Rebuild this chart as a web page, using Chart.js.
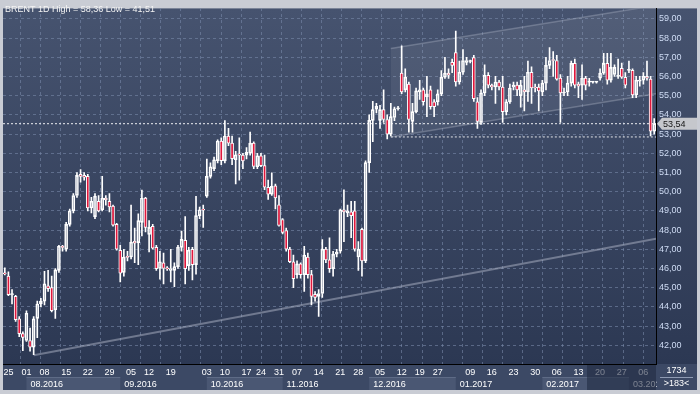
<!DOCTYPE html>
<html><head><meta charset="utf-8">
<script src="https://cdn.jsdelivr.net/npm/chart.js@4.4.1/dist/chart.umd.min.js"></script>
<style>html,body{margin:0;padding:0;background:#c9ccd4;}canvas{display:block;}</style>
</head><body>
<canvas id="c" width="700" height="394"></canvas>
<script>
// ---- DATA (daily BRENT candles) ----
const openP = [
45.74,45.61,44.62,44.55,43.38,42.61,42.25,42.25,41.90,43.40,
44.15,44.30,45.10,45.00,43.85,45.90,47.15,47.00,48.30,49.00,
49.80,50.90,50.85,50.80,49.15,48.70,49.50,49.06,49.67,49.50,
49.25,48.30,46.95,45.80,46.62,46.60,47.42,47.35,48.40,49.67,
47.78,48.20,47.10,46.00,46.30,46.00,45.90,45.90,46.10,47.10,
47.47,46.15,47.00,46.20,48.75,49.06,49.77,50.80,51.20,51.62,
52.64,51.60,52.90,52.53,51.66,51.95,51.90,51.90,52.00,52.53,
51.30,51.87,51.36,50.23,49.87,50.30,49.31,48.55,47.98,47.01,
46.35,45.68,46.24,45.68,46.60,45.68,44.66,44.55,44.70,47.01,
46.45,45.99,46.75,46.90,49.06,48.90,48.95,49.00,46.60,48.04,
46.40,51.51,53.71,54.30,53.71,54.27,53.76,52.99,53.86,54.32,
56.17,55.30,55.60,53.66,54.17,55.20,55.30,54.94,55.30,54.68,
54.68,55.10,55.96,56.17,56.73,57.24,55.71,56.22,56.73,56.78,
56.98,54.68,53.60,55.14,56.06,55.55,55.45,55.71,55.45,54.17,
54.68,55.45,55.55,55.00,55.30,55.19,56.22,55.45,55.45,55.20,
55.65,56.58,56.85,56.83,55.91,55.14,55.19,55.65,56.68,55.60,
55.55,55.91,55.70,55.70,55.70,55.91,56.17,56.68,55.81,56.10,
56.00,56.42,55.96,56.32,56.32,55.04,55.75,55.81,56.01,55.86,53.15];
const highP = [
46.04,45.83,44.90,44.60,43.50,42.70,43.80,42.90,43.50,44.30,
44.45,45.85,45.90,45.60,46.00,47.20,47.20,48.40,49.10,49.90,
51.00,51.15,51.00,50.90,49.70,49.90,49.80,50.80,49.80,49.90,
49.30,48.35,47.20,47.00,46.90,49.30,48.10,48.85,50.08,49.70,
48.50,48.30,47.20,46.90,46.80,46.10,47.00,46.30,47.20,47.95,
48.70,47.10,47.10,49.76,49.20,49.30,51.70,51.50,51.80,52.70,
52.80,53.70,53.30,52.90,52.10,52.80,52.00,52.30,53.10,52.60,
52.00,52.00,51.90,50.60,50.98,50.40,49.80,48.60,48.10,47.10,
46.70,46.40,46.30,47.15,46.80,45.90,44.80,44.90,47.50,47.10,
47.60,46.90,47.00,49.10,50.10,49.30,49.50,49.50,47.40,48.10,
51.60,54.00,54.70,54.60,54.50,55.30,54.00,54.60,54.40,54.45,
57.60,56.40,55.70,54.60,55.40,55.80,55.40,56.00,55.50,54.80,
55.30,56.30,57.00,56.40,56.90,58.36,56.80,57.40,57.00,56.85,
57.10,54.90,55.30,56.60,56.20,55.60,56.00,55.80,56.00,54.80,
55.60,55.70,55.70,55.80,56.00,56.80,56.50,55.60,55.60,55.80,
57.00,57.50,57.30,57.10,56.10,55.40,56.00,56.80,56.90,55.70,
56.60,56.00,55.90,55.75,55.75,56.40,57.20,57.20,57.20,56.60,
56.90,56.70,56.20,56.80,56.40,56.00,56.00,56.20,56.80,56.00,53.80];
const lowP = [
45.66,44.58,44.15,43.25,42.45,41.72,42.20,41.70,41.51,42.40,
44.00,44.10,44.80,43.74,43.40,45.80,46.90,46.90,48.20,48.90,
49.70,50.50,50.60,49.00,48.90,48.60,48.95,49.00,49.30,48.95,
48.20,46.95,45.30,45.60,46.40,46.50,46.30,46.20,47.70,47.90,
46.86,47.00,45.90,45.45,45.20,45.90,45.30,45.06,46.00,46.90,
45.20,45.90,45.40,45.70,48.60,48.14,49.70,50.70,51.10,51.50,
51.40,51.50,52.40,51.40,50.40,50.60,51.20,51.70,51.90,51.20,
51.20,51.30,50.10,49.60,49.80,49.10,48.20,47.80,46.90,46.30,
45.00,45.50,45.50,44.80,45.50,44.10,44.30,43.50,44.50,46.30,
45.80,45.60,46.60,46.80,47.40,48.70,47.60,46.90,45.90,45.60,
46.30,51.00,52.60,54.10,53.30,53.60,52.75,52.90,53.70,54.25,
55.10,55.20,53.10,53.10,54.10,54.80,54.50,53.90,54.30,53.90,
54.50,55.00,55.90,55.90,56.20,55.50,55.60,56.10,56.60,56.70,
54.70,53.30,53.50,55.00,55.40,55.30,54.60,55.30,53.60,54.00,
54.60,55.30,55.00,54.40,54.20,54.70,54.60,55.20,54.20,55.00,
55.30,56.40,56.00,55.80,53.60,55.00,55.00,55.50,55.40,54.90,
54.80,55.30,55.50,55.65,55.65,55.80,56.10,55.60,55.70,56.00,
55.90,55.90,55.40,56.20,54.90,54.90,55.50,55.60,55.80,52.90,53.00];
const closeP = [
45.72,44.64,44.69,43.33,42.61,42.41,43.67,41.90,43.38,44.15,
44.30,45.20,44.95,43.80,45.93,47.16,47.10,48.30,49.00,49.80,
50.85,50.80,50.75,49.15,49.50,49.77,49.00,49.67,49.57,49.20,
48.25,47.00,45.75,46.60,46.58,47.37,47.32,48.49,49.67,48.14,
48.14,47.06,45.99,46.35,46.00,45.98,46.00,46.10,47.11,47.52,
45.99,46.96,46.20,48.75,49.06,49.04,50.80,51.30,51.66,52.64,
51.62,52.90,52.53,51.72,51.92,51.90,51.60,52.05,52.53,51.31,
51.87,51.36,50.23,49.87,50.28,49.67,48.24,47.88,47.01,46.35,
45.47,46.24,45.68,46.70,45.68,44.55,44.50,44.70,47.01,46.45,
45.99,46.75,46.86,49.06,48.95,49.00,48.75,47.01,47.01,46.40,
51.51,53.71,54.27,54.45,54.27,53.76,52.99,53.91,54.32,54.35,
55.19,55.96,53.76,54.17,55.25,55.30,54.68,55.09,54.43,54.43,
55.09,55.96,56.17,56.06,56.58,55.71,56.22,56.83,56.83,56.78,
54.84,53.66,55.14,56.06,55.55,55.45,55.71,55.45,54.17,54.68,
55.40,55.55,55.30,55.55,55.19,56.22,55.40,55.40,55.25,55.65,
56.58,56.83,56.83,55.86,55.14,55.19,55.65,56.68,55.55,55.50,
55.91,55.55,55.70,55.70,55.70,56.17,56.68,55.81,56.47,56.47,
56.06,55.96,55.55,56.37,55.04,55.81,55.81,56.01,55.91,53.15,53.54];

// x axis: week-start ticks (bar index) and their day labels
const weekTickIndex = [1,6,11,17,23,29,35,40,46,56,61,67,71,76,81,87,93,98,104,110,115,120,129,135,141,147,153,159,165,171,177];
const weekTickLabel = ['25','01','08','15','22','29','05','12','19','03','10','17','24','31','07','14','21','28','05','12','19','27','09','16','23','30','06','13','20','27','06'];
// month row
const monthStartIndex = [6,32,56,77,101,125,149,173];
const monthLabel = ['08.2016','09.2016','10.2016','11.2016','12.2016','01.2017','02.2017','03.2017'];
// price axis ticks
const priceTicks = [42,43,44,45,46,47,48,49,50,51,52,53,54,55,56,57,58,59];
// drawn trend lines: [barIndex, price]
const supportLine = [[8,41.48],[180.5,47.55]];
const channelUpper = [[107,57.45],[180.5,59.70]];
const channelLower = [[107,52.85],[180.5,55.10]];
const lastPrice = 53.54;
const channelBase = 52.85;
const titleText = 'BRENT 1D High = 58,36 Low = 41,51';
const cornerTop = '1734', cornerBottom = '>183<';

// ---- STYLE ----
const COL = {
  frame:'#c9ccd4', top:'#46536f', bottom:'#2c3853', axisBg:'#3c4965', band:'#4a5773', bandLine:'#5e6b86',
  grid:'rgba(120,136,168,0.6)', red:'#e0173c', white:'#ffffff', yText:'#cfdcf4'
};
Chart.defaults.font.family = "'Liberation Sans', Arial, sans-serif";
Chart.defaults.font.size = 9;

const N = closeP.length;
const idx = closeP.map((_, i) => i);
const bodyData = idx.map(i => ({x:i, y:[Math.min(openP[i],closeP[i]), Math.max(openP[i],closeP[i])]}));
const upWick = idx.map(i => ({x:i, y:[Math.max(openP[i],closeP[i]), highP[i]]}));
const loWick = idx.map(i => ({x:i, y:[lowP[i], Math.min(openP[i],closeP[i])]}));
const bodyFill = idx.map(i => closeP[i] < openP[i] ? COL.red : 'rgba(0,0,0,0)');
const pts = a => a.map(p => ({x:p[0], y:p[1]}));
const gridStart = 1.44, gridStep = 5.571;
const gridTicks = [];
for (let v = gridStart; v <= N - 0.5; v += gridStep) gridTicks.push({value:v});

const bgPlugin = {
  id:'bg',
  beforeDraw(chart){
    const {ctx, chartArea:a, scales} = chart;
    const W = chart.width;
    ctx.save();
    ctx.fillStyle = COL.frame; ctx.fillRect(0,0,W,chart.height);
    const g = ctx.createLinearGradient(0,a.top,0,a.bottom);
    g.addColorStop(0,COL.top); g.addColorStop(1,COL.bottom);
    ctx.fillStyle = g; ctx.fillRect(a.left,a.top,W-3-a.left,a.bottom-a.top);
    ctx.fillStyle = COL.axisBg; ctx.fillRect(a.left,a.bottom,W-3-a.left,scales.xm.bottom-a.bottom);
    const xs = scales.x, xm = scales.xm;
    for (let k=0;k<monthStartIndex.length;k+=2){
      const x0 = xs.getPixelForValue(monthStartIndex[k]);
      const x1 = k+1<monthStartIndex.length ? xs.getPixelForValue(monthStartIndex[k+1]) : a.right;
      ctx.fillStyle = COL.band; ctx.fillRect(x0,xm.top,x1-x0,xm.bottom-xm.top);
      ctx.fillStyle = COL.bandLine; ctx.fillRect(x0,xm.top,x1-x0,1);
    }
    ctx.restore();
  },
  afterDraw(chart){
    const {ctx, chartArea:a, scales} = chart;
    const W = chart.width;
    ctx.save();
    // dimmed area at lower right of time axis
    ctx.fillStyle = 'rgba(34,44,66,0.6)';
    ctx.fillRect(587,a.bottom+1,a.right-587,scales.xm.bottom-a.bottom-1);
    // corner box
    ctx.fillStyle = COL.axisBg; ctx.fillRect(a.right+1,a.bottom+1,W-3-a.right-1,scales.xm.bottom-a.bottom-1);
    ctx.fillStyle = '#8f9bb3'; ctx.fillRect(a.right+4,a.bottom+13,W-3-a.right-8,1);
    ctx.fillStyle = '#ffffff'; ctx.font = "9px 'Liberation Sans', Arial, sans-serif";
    ctx.textAlign = 'center'; ctx.textBaseline = 'middle';
    const cx = (a.right + W - 3)/2;
    ctx.fillText(cornerTop, cx, a.bottom+7);
    ctx.fillText(cornerBottom, cx, a.bottom+19.5);
    // title
    ctx.textAlign = 'left'; ctx.textBaseline = 'alphabetic';
    ctx.fillStyle = '#f4f4f4';
    ctx.fillText(titleText, 5, 12);
    // price tag
    const y = scales.y.getPixelForValue(lastPrice);
    const L = a.right + 1, R = W - 3;
    ctx.beginPath();
    ctx.moveTo(L, y); ctx.lineTo(L+5, y-6); ctx.lineTo(R, y-6); ctx.lineTo(R, y+6); ctx.lineTo(L+5, y+6); ctx.closePath();
    ctx.fillStyle = '#c5c7cc'; ctx.fill();
    ctx.fillStyle = '#151515'; ctx.textBaseline = 'middle';
    ctx.fillText(lastPrice.toFixed(2).replace('.', ','), L+6, y+0.5);
    ctx.restore();
  }
};

new Chart(document.getElementById('c'), {
  type:'bar',
  data:{datasets:[
    {type:'bar', data:bodyData, backgroundColor:bodyFill, borderColor:COL.white, borderWidth:1, borderSkipped:false,
     barThickness:3, minBarLength:1, grouped:false, order:0, xAxisID:'x', yAxisID:'y'},
    {type:'bar', data:upWick, backgroundColor:COL.white, borderWidth:0, barThickness:1, grouped:false, order:1, xAxisID:'x', yAxisID:'y'},
    {type:'bar', data:loWick, backgroundColor:COL.white, borderWidth:0, barThickness:1, grouped:false, order:1, xAxisID:'x', yAxisID:'y'},
    {type:'line', data:pts(channelUpper), borderColor:'rgba(190,196,212,0.32)', borderWidth:1.5, pointRadius:0,
     fill:'+1', backgroundColor:'rgba(255,255,255,0.065)', order:5, xAxisID:'x', yAxisID:'y'},
    {type:'line', data:pts(channelLower), borderColor:'rgba(190,196,212,0.32)', borderWidth:1.5, pointRadius:0, fill:false, order:5, xAxisID:'x', yAxisID:'y'},
    {type:'line', data:pts(supportLine), borderColor:'rgba(175,182,200,0.5)', borderWidth:2, pointRadius:0, fill:false, order:5, xAxisID:'x', yAxisID:'y'},
    {type:'line', data:pts([[-0.5,lastPrice],[N-0.5,lastPrice]]), borderColor:'rgba(255,255,255,0.9)', borderWidth:1, borderDash:[2,2], pointRadius:0, fill:false, order:4, xAxisID:'x', yAxisID:'y'},
    {type:'line', data:pts([[channelLower[0][0],channelBase],[N-0.5,channelBase]]), borderColor:'rgba(255,255,255,0.85)', borderWidth:1, borderDash:[2,2], pointRadius:0, fill:false, order:4, xAxisID:'x', yAxisID:'y'}
  ]},
  options:{
    responsive:false, animation:false, devicePixelRatio:1,
    layout:{padding:{left:3, top:2, right:3, bottom:4}},
    plugins:{legend:{display:false}, tooltip:{enabled:false}},
    scales:{
      x:{type:'linear', position:'bottom', min:-0.5, max:N-0.5, offset:false,
         afterBuildTicks:s=>{s.ticks = weekTickIndex.map(v=>({value:v}));},
         afterFit:s=>{s.height = 13;},
         ticks:{autoSkip:false, maxRotation:0, color:'#ffffff', padding:3,
                callback:v=>{const k = weekTickIndex.indexOf(v); return k>=0 ? weekTickLabel[k] : '';}},
         grid:{display:false, drawTicks:false},
         border:{display:true, color:'#000000', width:1}},
      xm:{type:'linear', position:'bottom', weight:1, min:-0.5, max:N-0.5, offset:false,
         afterBuildTicks:s=>{s.ticks = monthStartIndex.map(v=>({value:v}));},
         afterFit:s=>{s.height = 13;},
         ticks:{autoSkip:false, maxRotation:0, color:'#ffffff', padding:2, align:'start', labelOffset:4,
                callback:v=>{const k = monthStartIndex.indexOf(v); return k>=0 ? monthLabel[k] : '';}},
         grid:{display:false, drawTicks:false}, border:{display:false}},
      xg:{type:'linear', position:'top', min:-0.5, max:N-0.5, offset:false,
         afterBuildTicks:s=>{s.ticks = gridTicks.slice();},
         afterFit:s=>{s.height = 0;},
         ticks:{display:false},
         grid:{color:COL.grid, drawTicks:false, lineWidth:1},
         border:{display:false, dash:[3,3]}},
      y:{type:'linear', position:'right', min:41.027, max:59.543,
         afterBuildTicks:s=>{s.ticks = priceTicks.map(v=>({value:v}));},
         afterFit:s=>{s.width = 41;},
         ticks:{color:COL.yText, padding:3, callback:v=>Number(v).toFixed(2).replace('.', ',')},
         grid:{color:COL.grid, drawTicks:false, lineWidth:1},
         border:{display:true, color:'#000000', width:1, dash:[3,3]}}
    }
  },
  plugins:[bgPlugin]
});
</script>
</body></html>
